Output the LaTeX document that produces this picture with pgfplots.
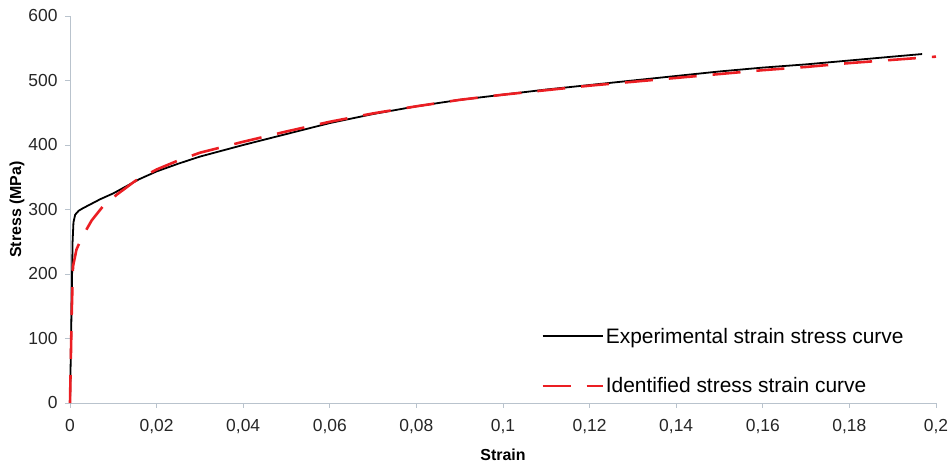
\documentclass[border=0pt]{standalone}
\usepackage{pgfplots}
\pgfplotsset{compat=1.18}
\usepackage{fontspec}
\setmainfont{Liberation Sans}
\definecolor{axisgray}{RGB}{185,195,205}
\definecolor{fitred}{RGB}{235,30,35}
\begin{document}
\begin{tikzpicture}
\begin{axis}[
  scale only axis,
  width=866bp, height=387bp,
  xmin=0, xmax=0.2, ymin=0, ymax=600,
  axis x line=bottom, axis y line=left,
  axis line style={axisgray, line width=0.8pt, -},
  xtick={0,0.02,...,0.2}, ytick={0,100,...,600},
  xticklabels={0,{0,02},{0,04},{0,06},{0,08},{0,1},{0,12},{0,14},{0,16},{0,18},{0,2}},
  tick style={axisgray, line width=0.8pt},
  major tick length=5bp,
  xtick align=outside, ytick align=outside,
  /pgf/number format/assume math mode=true,
  tick label style={font=\fontsize{17.5}{20}\selectfont, text=black!85},
  xticklabel style={yshift=-8bp},
  yticklabel style={xshift=-4bp},
  xlabel={\textbf{Strain}},
  ylabel={\textbf{Stress (MPa)}},
  every axis x label/.style={at={(axis description cs:0.5,-0.134)}, anchor=center, font=\fontsize{16}{19}\selectfont},
  every axis y label/.style={at={(axis description cs:-0.0612,0.5)}, rotate=90, anchor=center, font=\fontsize{16}{19}\selectfont},
  legend style={draw=none, fill=none, at={(0.5405,0.205)}, anchor=north west,
    font=\fontsize{21}{25}\selectfont, row sep=29bp,
    /tikz/every even column/.append style={column sep=6bp}},
  legend image code/.code={\draw[#1] (0bp,0bp) -- (60bp,0bp);},
  legend cell align=left,
  clip=false,
]
\addplot[black, line width=1.8pt, line join=round] coordinates {
(0,0) (0.0003,120) (0.0006,250) (0.0008,280) (0.0012,292) (0.002,298)
(0.003,302) (0.005,309) (0.007,316) (0.01,325) (0.013,336) (0.016,347)
(0.02,359) (0.025,371) (0.03,382) (0.035,391) (0.04,400) (0.05,417)
(0.06,434) (0.07,448) (0.08,460) (0.09,470) (0.1,478) (0.11,486)
(0.12,493) (0.13,500) (0.14,507) (0.15,514) (0.16,520) (0.17,525)
(0.18,531) (0.19,537) (0.1968,541)
};
\addlegendentry{Experimental strain stress curve}
\addplot[fitred, line width=2.6pt, dash pattern=on 28bp off 16bp, line join=round] coordinates {
(0,0) (0.0004,140) (0.0007,212) (0.0015,238) (0.0027,256) (0.005,283)
(0.0075,304) (0.0108,323) (0.015,344) (0.02,362) (0.025,376) (0.03,388)
(0.04,405) (0.05,421) (0.06,436) (0.07,449) (0.08,460) (0.09,470)
(0.1,478) (0.11,485) (0.12,492) (0.13,498) (0.14,504) (0.15,510)
(0.16,516) (0.17,521) (0.18,527) (0.19,532) (0.2,537)
};
\addlegendentry{Identified stress strain curve}
\path (axis description cs:-0.08083,-0.17829) rectangle (axis description cs:1.01848,1.04134);
\end{axis}
\end{tikzpicture}
\end{document}
